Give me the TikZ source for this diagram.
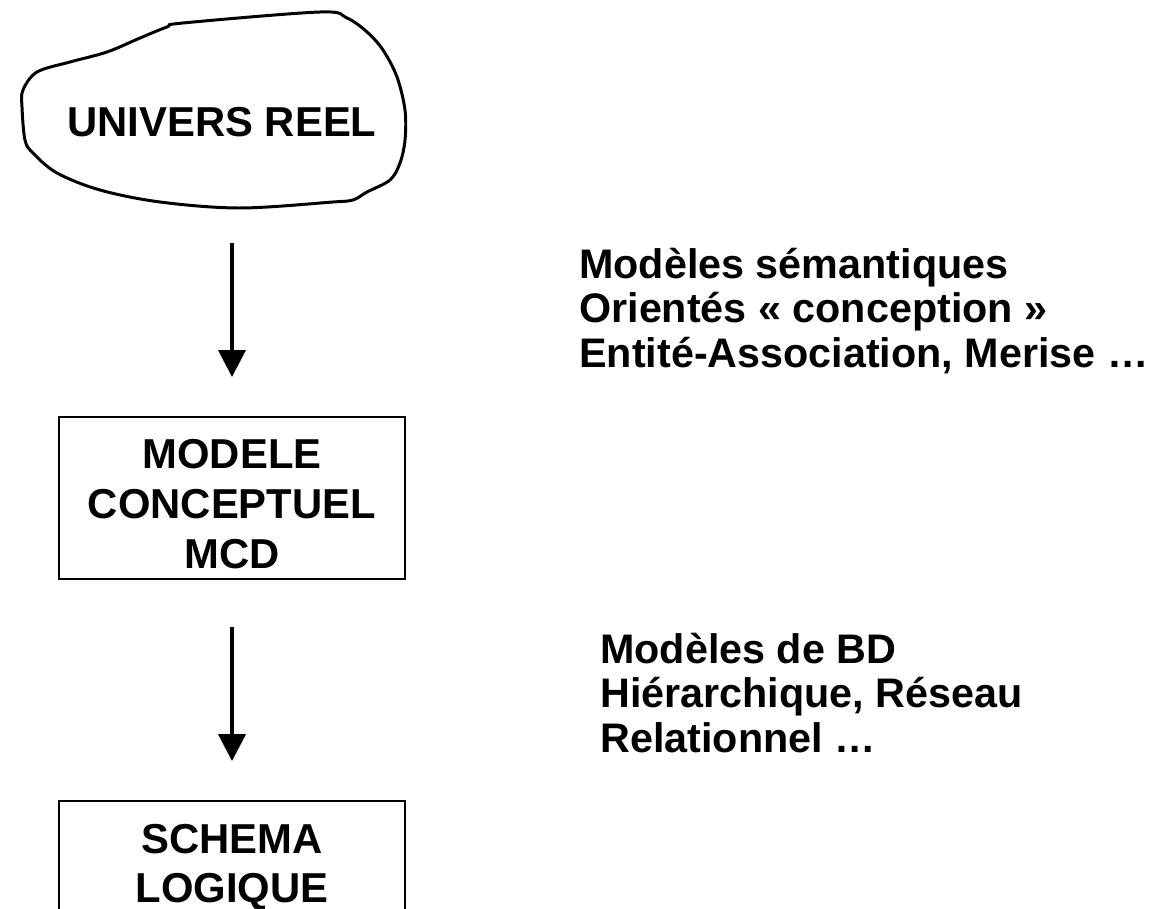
\documentclass[tikz,border=0pt]{standalone}
\usepackage{fontspec}
\setmainfont{Liberation Sans}
\usetikzlibrary{arrows.meta, positioning}
\newcommand{\haut}{\rule{0pt}{0.84cm}}
\tikzset{
    boite/.style={draw, line width=1.1pt, minimum width=6.92cm, inner xsep=0pt,
      inner ysep=0.2cm, align=center, anchor=north,
      font=\bfseries\fontsize{23.8}{28.4}\selectfont},
    fleche/.style={line width=2.2pt, -{Triangle[length=5.4mm, width=5.4mm]}},
    notes/.style={inner sep=0pt, anchor=north west, align=left,
      font=\bfseries\fontsize{23.5}{25.2}\selectfont},
}

\begin{document}
\begin{tikzpicture}[x=0.02cm, y=-0.02cm]
    \clip (0,0) rectangle (1166,909);

    \draw[line width=1.7pt, line join=round] plot[smooth cycle, tension=0.55] coordinates {
      (23,90) (37,72) (70,62) (107,52) (140,38) (167,27) (183,23) (320,12)
      (347,18) (367,32) (383,50) (397,77) (405,110) (405,140) (400,163) (390,180)
      (367,192) (353,200) (333,202) (240,208) (160,202) (100,190) (57,173)
      (33,153) (25,140) (22,107)};
    \node[font=\bfseries\fontsize{23.8}{28.4}\selectfont] (reel) at (222,122) {UNIVERS REEL};
    \coordinate (reelbas) at (232,208);

    \node[boite] (mcd) at (232,416) {\haut MODELE\\CONCEPTUEL\\MCD};
    \node[boite, below=4.4cm of mcd] (schema) {\haut SCHEMA\\LOGIQUE};

    \draw[fleche, shorten <=0.7cm, shorten >=0.78cm] (reelbas) -- (mcd.north);
    \draw[fleche, shorten <=0.94cm, shorten >=0.78cm] (mcd.south) -- (schema.north);

    \node[notes] (semant) at (579,248) {Modèles sémantiques\\Orientés « conception »\\Entité-Association, Merise …};
    \node[notes] (modbd) at (600,633) {Modèles de BD\\Hiérarchique, Réseau\\Relationnel …};
\end{tikzpicture}
\end{document}
